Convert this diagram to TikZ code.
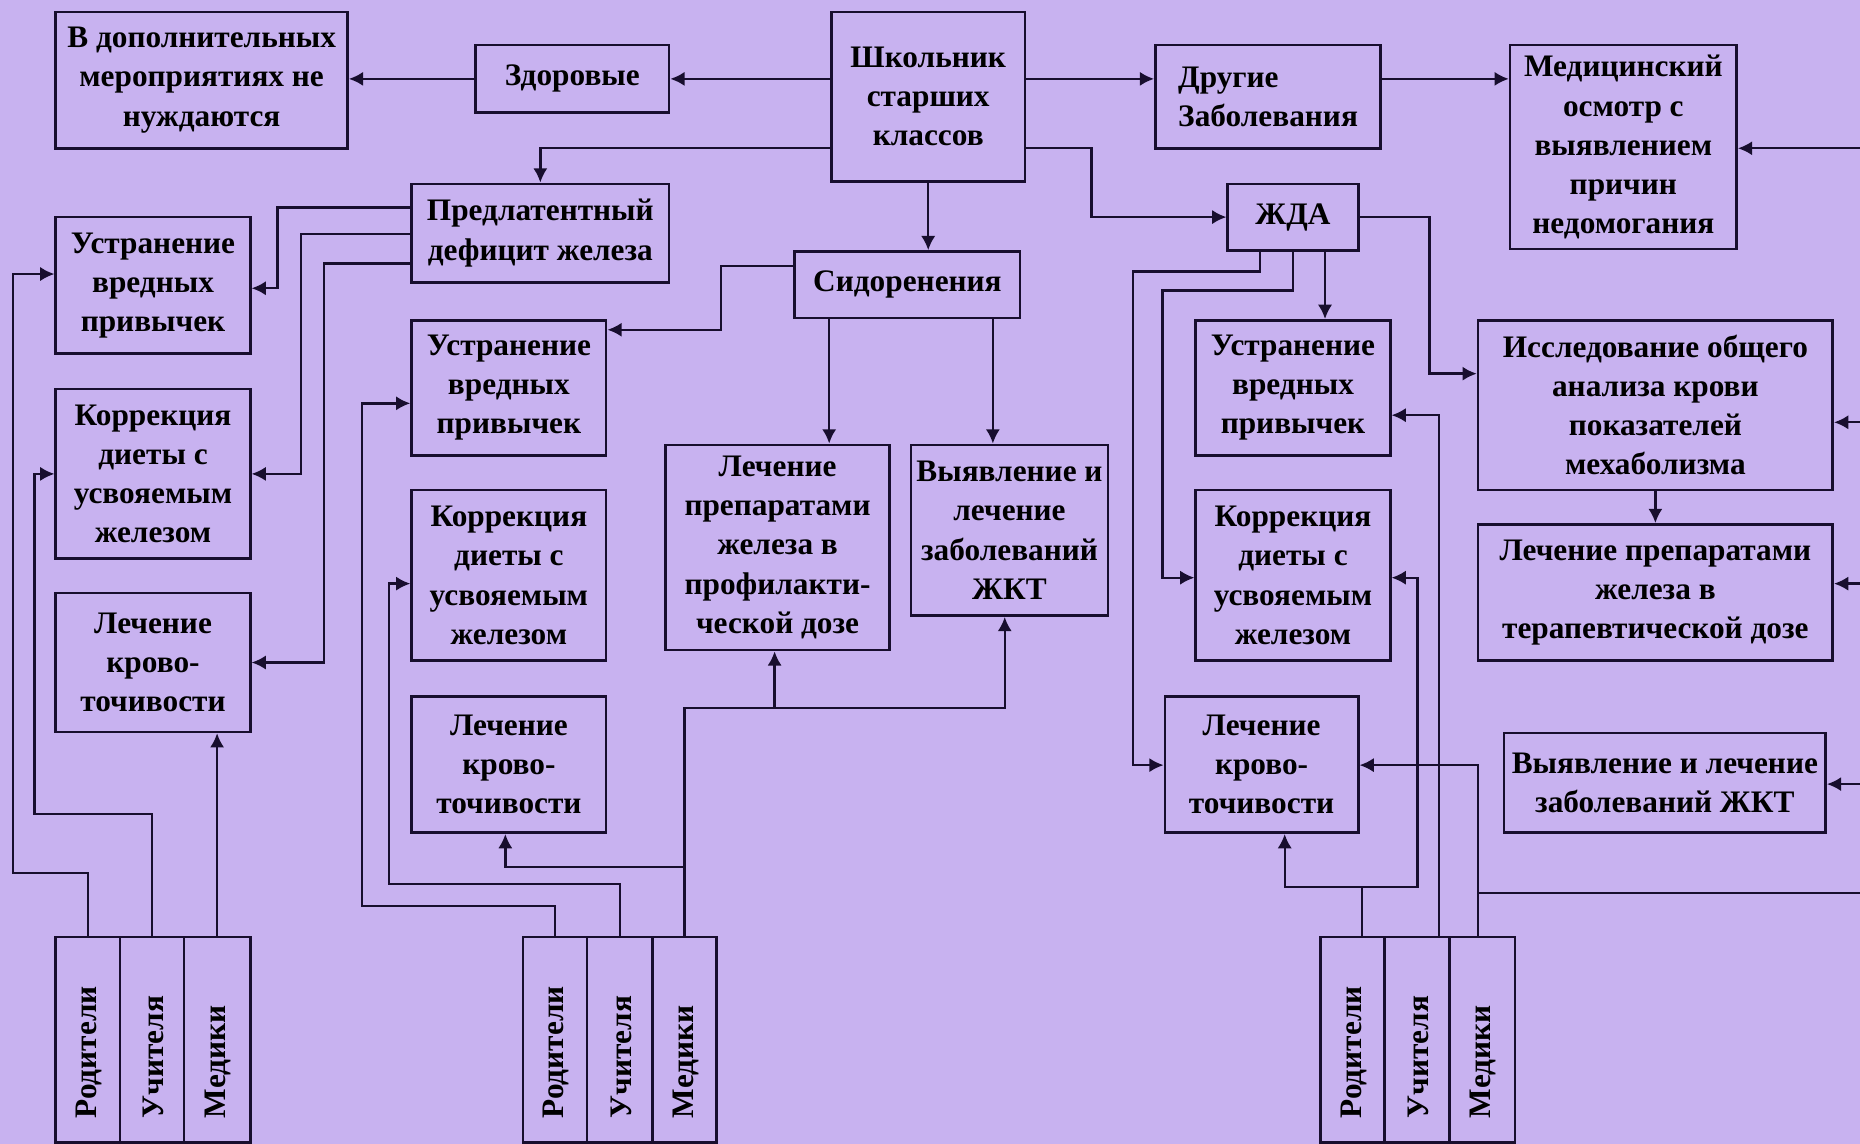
\documentclass[tikz,border=0pt]{standalone}
\usepackage{fontspec}
\setmainfont{Liberation Serif}
\usetikzlibrary{arrows.meta,calc}
\definecolor{bgc}{RGB}{200,178,240}
\definecolor{lnc}{RGB}{24,14,46}
\begin{document}
\begin{tikzpicture}[x=0.5pt,y=-0.5pt,
  font=\fontsize{13.2}{16.5}\selectfont\bfseries,
  box/.style={draw=lnc, line width=1.1pt, inner sep=0pt, align=center, text=black},
  sz/.style 2 args={minimum width=#1*0.5pt, minimum height=#2*0.5pt},
  col/.style={draw=lnc, line width=1.1pt, inner sep=0pt, minimum height=86.5pt},
  coltext/.style={rotate=90, anchor=west, inner sep=0pt, text=black},
  arr/.style={draw=lnc, line width=1pt, -{Latex[length=6pt,width=6pt]}},
  wire/.style={draw=lnc, line width=1pt}]
\fill[bgc] (0,0) rectangle (1568,964);
\useasboundingbox (0,0) rectangle (1568,964);

% top row
\node[box, sz={246}{115}] (b1) at (170,67.5) {В дополнительных\\мероприятиях не\\нуждаются};
\node[box, sz={163}{57}] (zdr) at (482.5,66.5) {Здоровые};
\node[box, sz={163}{143}] (shk) at (782.5,81.5) {Школьник\\старших\\классов};
\node[box, sz={190}{87}, align=left] (drg) at (1069,81.5) {Другие\\Заболевания};
\node[box, sz={191}{172}] (med) at (1368.5,124) {Медицинский\\осмотр с\\выявлением\\причин\\недомогания};

% left branch
\node[box, sz={217}{83}] (pred) at (455.5,196.5) {Предлатентный\\дефицит железа};
\node[box, sz={164}{115}] (ust1) at (129,240.5) {Устранение\\вредных\\привычек};
\node[box, sz={164}{143}] (kor1) at (129,399.5) {Коррекция\\диеты с\\усвояемым\\железом};
\node[box, sz={164}{117}] (lech1) at (129,558.5) {Лечение\\крово-\\точивости};

% middle branch
\node[box, sz={190}{56}] (sid) at (765,240) {Сидоренения};
\node[box, sz={164}{114}] (ust2) at (429,327) {Устранение\\вредных\\привычек};
\node[box, sz={164}{144}] (kor2) at (429,485) {Коррекция\\диеты с\\усвояемым\\железом};
\node[box, sz={164}{115}] (lech2) at (429,644.5) {Лечение\\крово-\\точивости};
\node[box, sz={189}{173}] (prof) at (655.5,461.5) {Лечение\\препаратами\\железа в\\профилакти-\\ческой дозе};
\node[box, sz={166}{144}] (vyy1) at (851,447) {Выявление и\\лечение\\заболеваний\\ЖКТ};

% right branch
\node[box, sz={110}{56}] (zhda) at (1090,183) {ЖДА};
\node[box, sz={164}{114}] (ust3) at (1090,327) {Устранение\\вредных\\привычек};
\node[box, sz={164}{144}] (kor3) at (1090,485) {Коррекция\\диеты с\\усвояемым\\железом};
\node[box, sz={163}{115}] (lech3) at (1063.5,644.5) {Лечение\\крово-\\точивости};
\node[box, sz={299}{143}] (issl) at (1395.5,341.5) {Исследование общего\\анализа крови\\показателей\\мехаболизма};
\node[box, sz={299}{115}] (ter) at (1395.5,499.5) {Лечение препаратами\\железа в\\терапевтической дозе};
\node[box, sz={271}{84}] (vyy2) at (1403.5,660) {Выявление и лечение\\заболеваний ЖКТ};

% bottom columns
\node[col, minimum width=27pt] (rod1) at (74,876.5) {};
\node[col, minimum width=27pt] (uch1) at (128,876.5) {};
\node[col, minimum width=28pt] (medk1) at (183,876.5) {};
\node[col, minimum width=27pt] (rod2) at (468,876.5) {};
\node[col, minimum width=27.5pt] (uch2) at (522.5,876.5) {};
\node[col, minimum width=27pt] (medk2) at (577,876.5) {};
\node[col, minimum width=27pt] (rod3) at (1140,876.5) {};
\node[col, minimum width=27.5pt] (uch3) at (1194.5,876.5) {};
\node[col, minimum width=27.5pt] (medk3) at (1249.5,876.5) {};
\node[coltext] (trod1) at (75,943) {Родители};
\node[coltext] (tuch1) at (129,943) {Учителя};
\node[coltext] (tmed1) at (184,943) {Медики};
\node[coltext] (trod2) at (469,943) {Родители};
\node[coltext] (tuch2) at (523.5,943) {Учителя};
\node[coltext] (tmed2) at (578,943) {Медики};
\node[coltext] (trod3) at (1141,943) {Родители};
\node[coltext] (tuch3) at (1195.5,943) {Учителя};
\node[coltext] (tmed3) at (1250.5,943) {Медики};

% right-edge free ends
\coordinate (r1) at (1568,125);
\coordinate (r2) at (1568,356);
\coordinate (r3) at (1568,492);
\coordinate (r4) at (1568,661);
\coordinate (r5) at (1568,753);

% top connectors
\draw[arr] (shk.west |- zdr.east) -- (zdr.east);
\draw[arr] (zdr.west) -- (b1.east |- zdr.west);
\draw[arr] (shk.east |- zdr.east) -- (drg.west |- zdr.east);
\draw[arr] (drg.east |- zdr.east) -- (med.west |- zdr.east);
\draw[arr] (r1) -- (med.east |- r1);
\draw[arr] (shk.west |- 0,125) -| (pred.north);
\draw[arr] (shk.south) -- (shk.south |- sid.north);
\draw[arr] (shk.east |- 0,125) -- (920,125) |- (zhda.west);

% Predlatentny
\draw[arr] (pred.west |- 0,175) -- (234,175) |- (ust1.east |- 0,243);
\draw[arr] (pred.west |- 0,197) -- (254,197) |- (kor1.east);
\draw[arr] (pred.west |- 0,222) -- (273,222) |- (lech1.east);

% left bottom
\draw[arr] (rod1.north) |- (11,736) |- (ust1.west |- 0,231);
\draw[arr] (uch1.north) |- (29,686) |- (kor1.west);
\draw[arr] (medk1.north) -- (medk1.north |- lech1.south);

% Sidorenenia
\draw[arr] (sid.west |- 0,224) -- (608,224) |- (ust2.east |- 0,278);
\draw[arr] (sid.south -| 699,0) -- (prof.north -| 699,0);
\draw[arr] (sid.south -| 837,0) -- (vyy1.north -| 837,0);

% middle bottom
\draw[arr] (rod2.north) |- (305,764) |- (ust2.west |- 0,340);
\draw[arr] (uch2.north) |- (328,745) |- (kor2.west |- 0,492);
\draw[arr] (medk2.north) |- (847,597) -- (vyy1.south -| 847,0);
\coordinate (j1) at (653,597);
\draw[arr] (j1) -- (prof.south -| j1);
\coordinate (j2) at (577,731);
\draw[arr] (j2) -| (lech2.south -| 426,0);

% ZhDA
\draw[arr] (zhda.east) -- (1205,183) |- (issl.west |- 0,315);
\draw[arr] (zhda.south -| 1117,0) -- (ust3.north -| 1117,0);
\draw[arr] (zhda.south -| 1062,0) |- (955,229) |- (lech3.west |- 0,645);
\draw[arr] (zhda.south -| 1090,0) |- (980,245) |- (kor3.west |- 0,487);
\draw[arr] (issl.south) -- (ter.north);

% right bottom
\coordinate (j3) at (1148,748);
\draw[arr] (rod3.north -| j3) -- (j3) -- (1083,748) -- (lech3.south -| 1083,0);
\draw[arr] (j3) -- (1195,748) |- (kor3.east |- 0,487);
\draw[arr] (uch3.north -| 1213,0) |- (ust3.east |- 0,350);
\draw[arr] (medk3.north -| 1246,0) |- (lech3.east |- 0,645);
\draw[wire] (medk3.north -| 1246,0) |- (r5);

% right edge arrows
\draw[arr] (r2) -- (issl.east |- r2);
\draw[arr] (r3) -- (ter.east |- r3);
\draw[arr] (r4) -- (vyy2.east |- r4);
\end{tikzpicture}
\end{document}
